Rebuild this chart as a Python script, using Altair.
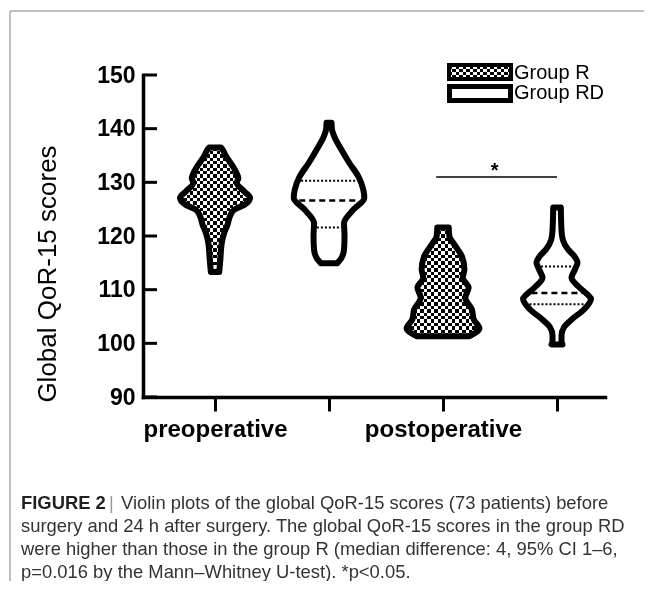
import altair as alt
import numpy as np
import pandas as pd

# ---------------- data ----------------
time_points = ["preoperative", "postoperative"]
groups = ["Group R", "Group RD"]
violin_ids = ["pre_R", "pre_RD", "post_R", "post_RD"]
violin_pos = [1, 2, 3, 4]
violin_group = ["Group R", "Group RD", "Group R", "Group RD"]

# outline of each violin: score levels and half-width readings (px at the axis spacing)
pre_R_scores = [136.5, 136.1, 134.8, 133.3, 132.0, 130.8, 129.9, 128.3, 127.1, 125.8, 124.9, 123.7, 122.1, 120.6, 118.7, 115.6, 113.3]
pre_R_width = [5.8, 7.5, 11.2, 16.7, 20.8, 23.3, 21.7, 29.2, 35.0, 29.2, 19.2, 15.0, 12.5, 9.2, 6.7, 5.3, 4.2]

pre_RD_scores = [141.1, 139.8, 138.5, 136.1, 133.6, 131.1, 128.6, 127.1, 124.9, 122.4, 120.0, 117.5, 115.8, 114.9]
pre_RD_width = [2.5, 3.0, 5.3, 12.3, 20.3, 29.3, 34.3, 35.3, 24.3, 15.0, 15.5, 15.0, 12.0, 8.0]

post_R_scores = [121.6, 119.9, 118.4, 116.2, 113.8, 112.2, 110.4, 108.5, 106.3, 104.5, 102.8, 101.3]
post_R_width = [5.7, 6.4, 11.4, 18.9, 21.4, 19.8, 25.6, 22.3, 28.9, 30.6, 36.4, 26.0]

post_RD_scores = [125.3, 121.0, 119.3, 117.5, 116.3, 115.0, 113.8, 112.2, 110.5, 109.0, 108.3, 106.3, 104.5, 103.0, 101.5, 100.3, 99.8]
post_RD_width = [3.8, 4.5, 5.8, 11.0, 17.0, 20.5, 18.0, 14.5, 22.0, 31.0, 34.0, 27.0, 15.0, 7.0, 4.5, 4.5, 5.5]

# quartile / median lines of the RD violins
pre_RD_quartiles = [121.6, 126.6, 130.3]
post_RD_quartiles = [107.3, 109.4, 114.3]
quartile_kind = ["q", "median", "q"]

y_ticks = [90, 100, 110, 120, 130, 140, 150]

sig_span = [2.94, 4.0]
sig_level = [131.0]
sig_label = ["*"]

legend_labels = ["Group R", "Group RD"]

caption_head = "FIGURE 2"
caption_lines = [
    "Violin plots of the global QoR-15 scores (73 patients) before",
    "surgery and 24 h after surgery. The global QoR-15 scores in the group RD",
    "were higher than those in the group R (median difference: 4, 95% CI 1\u20136,",
    "p=0.016 by the Mann\u2013Whitney U-test). *p<0.05.",
]
y_title = "Global QoR-15 scores"

# ---------------- layout ----------------
W, H = 462, 322
PX_PER_UNIT = 114.0
X_DOMAIN = [0.368, 4.421]
Y_DOMAIN = [90, 150]
PX_PER_SCORE = H / (Y_DOMAIN[1] - Y_DOMAIN[0])
FONT = "Liberation Sans"
STROKE = 6

xscale = alt.Scale(domain=X_DOMAIN, nice=False, zero=False)
yscale = alt.Scale(domain=Y_DOMAIN, nice=False, zero=False)

XAX = alt.Axis(values=[1, 2, 3, 4],
               labelExpr="datum.value == 1 ? 'preoperative' : datum.value == 3 ? 'postoperative' : ''",
               domainColor="black", domainWidth=3.5, domainCap="square",
               tickColor="black", tickWidth=3, tickSize=14,
               labelFont=FONT, labelFontSize=24, labelFontWeight="bold", labelColor="black",
               labelPadding=6, labelOverlap=False, labelBound=False, labelFlush=False,
               grid=False, title=None)
YAX = alt.Axis(values=y_ticks, domainColor="black", domainWidth=3.5, domainCap="square",
               ticks=False, tickSize=0, labelFont=FONT, labelFontSize=23,
               labelFontWeight="bold", labelColor="black", labelPadding=8,
               grid=False, title=None)

shapes = {
    "pre_R": (pre_R_scores, pre_R_width),
    "pre_RD": (pre_RD_scores, pre_RD_width),
    "post_R": (post_R_scores, post_R_width),
    "post_RD": (post_RD_scores, post_RD_width),
}

rows = []
for vid, pos, grp in zip(violin_ids, violin_pos, violin_group):
    sc, wd = shapes[vid]
    for s, w in sorted(zip(sc, wd)):
        rows.append(dict(violin=vid, pos=pos, group=grp, score=s,
                         lo=pos - w / PX_PER_UNIT, hi=pos + w / PX_PER_UNIT))
vdf = pd.DataFrame(rows)


def stripes(n, vertical):
    stops = []
    for i in range(n):
        c = "#000000" if i % 2 == 0 else "#ffffff"
        stops.append(alt.GradientStop(offset=i / n, color=c))
        stops.append(alt.GradientStop(offset=(i + 1) / n, color=c))
    if vertical:
        return alt.LinearGradient(gradient="linear", stops=stops, x1=0, x2=1, y1=0, y2=0)
    return alt.LinearGradient(gradient="linear", stops=stops, x1=0, x2=0, y1=0, y2=1)


def area(d, **mk):
    return alt.Chart(d).mark_area(orient="horizontal", interpolate="monotone", **mk).encode(
        y=alt.Y("score:Q", scale=yscale, axis=YAX),
        x=alt.X("lo:Q", scale=xscale, axis=XAX),
        x2="hi:Q",
        detail="violin:N",
    )


layers = []
# checkered fill for group R violins
for vid in ["pre_R", "post_R"]:
    d = vdf[vdf.violin == vid]
    sc, wd = shapes[vid]
    nh = int(round((max(sc) - min(sc)) * PX_PER_SCORE / 3.4))
    nv = int(round(2 * max(wd) / 3.4))
    layers.append(area(d, color=stripes(nh, False)))
    layers.append(area(d, color=stripes(nv, True), blend="difference"))

# quartile lines inside RD violins
qrows = []
for vid, pos, qs in [("pre_RD", 2, pre_RD_quartiles), ("post_RD", 4, post_RD_quartiles)]:
    sc, wd = shapes[vid]
    order = np.argsort(sc)
    for q, kind in zip(qs, quartile_kind):
        hw = float(np.interp(q, np.array(sc)[order], np.array(wd)[order])) - STROKE / 2
        qrows.append(dict(score=q, kind=kind, lo=pos - hw / PX_PER_UNIT, hi=pos + hw / PX_PER_UNIT))
qdf = pd.DataFrame(qrows)
for kind, dash, sw in [("q", [2, 2], 2), ("median", [6, 4], 2.5)]:
    layers.append(alt.Chart(qdf[qdf.kind == kind]).mark_rule(color="black", strokeWidth=sw, strokeDash=dash).encode(
        y=alt.Y("score:Q", scale=yscale, axis=YAX),
        x=alt.X("lo:Q", scale=xscale, axis=XAX),
        x2="hi:Q"))

# outlines
layers.append(area(vdf, fill="white", fillOpacity=0, stroke="black",
                   strokeWidth=STROKE, strokeJoin="round"))

# inward y ticks
layers.append(alt.Chart(pd.DataFrame({"score": y_ticks})).mark_rule(color="black", strokeWidth=3).encode(
    y=alt.Y("score:Q", scale=yscale, axis=YAX), x=alt.value(0), x2=alt.value(14)))

# significance bracket
sdf = pd.DataFrame({"lo": [sig_span[0]], "hi": [sig_span[1]], "score": sig_level,
                    "mid": [(sig_span[0] + sig_span[1]) / 2], "t": sig_label})
layers.append(alt.Chart(sdf).mark_rule(color="black", strokeWidth=1.5).encode(
    x=alt.X("lo:Q", scale=xscale, axis=XAX), x2="hi:Q", y=alt.Y("score:Q", scale=yscale, axis=YAX)))
layers.append(alt.Chart(sdf).mark_text(font=FONT, fontSize=20, fontWeight="bold", color="black",
                                       baseline="middle", dy=-6, dx=-2).encode(
    x=alt.X("mid:Q", scale=xscale, axis=XAX), y=alt.Y("score:Q", scale=yscale, axis=YAX), text="t:N"))

# legend (drawn)
one = pd.DataFrame({"k": [0]})
layers.append(alt.Chart(one).mark_rect(color=stripes(4, False)).encode(
    x=alt.value(306), x2=alt.value(368), y=alt.value(-10), y2=alt.value(4)))
layers.append(alt.Chart(one).mark_rect(color=stripes(18, True), blend="difference").encode(
    x=alt.value(306), x2=alt.value(368), y=alt.value(-10), y2=alt.value(4)))
layers.append(alt.Chart(one).mark_rect(fill="white", fillOpacity=0, stroke="black", strokeWidth=4).encode(
    x=alt.value(306), x2=alt.value(368), y=alt.value(-10), y2=alt.value(4)))
layers.append(alt.Chart(one).mark_rect(fill="white", stroke="black", strokeWidth=5).encode(
    x=alt.value(306.5), x2=alt.value(367.5), y=alt.value(11.5), y2=alt.value(25.5)))
ldf = pd.DataFrame({"t": legend_labels, "yy": [-2, 18]})
layers.append(alt.Chart(ldf).mark_text(font=FONT, fontSize=20, color="black", align="left",
                                       baseline="middle").encode(
    x=alt.value(371), y=alt.Y("yy:Q", scale=None, axis=None), text="t:N"))

# y title
layers.append(alt.Chart(pd.DataFrame({"t": [y_title]})).mark_text(
    font=FONT, fontSize=26, color="black", angle=270, align="center", baseline="middle").encode(
    x=alt.value(-95), y=alt.value(199), text="t:N"))

# frame lines
layers.append(alt.Chart(one).mark_rule(color="#aaaaaa", strokeWidth=1.5).encode(
    x=alt.value(-133), x2=alt.value(520), y=alt.value(-64)))
layers.append(alt.Chart(one).mark_rule(color="#aaaaaa", strokeWidth=1.5).encode(
    x=alt.value(-133), y=alt.value(-64), y2=alt.value(530)))

# caption
cap_y = [434, 457, 480, 503]
layers.append(alt.Chart(pd.DataFrame({"t": [caption_head]})).mark_text(
    font=FONT, fontSize=18.4, fontWeight="bold", color="#231f20", align="left", baseline="alphabetic").encode(
    x=alt.value(-122), y=alt.value(cap_y[0]), text="t:N"))
layers.append(alt.Chart(pd.DataFrame({"t": ["|"]})).mark_text(
    font=FONT, fontSize=18.4, color="#999999", align="left", baseline="alphabetic").encode(
    x=alt.value(-34), y=alt.value(cap_y[0]), text="t:N"))
cdf = pd.DataFrame({"t": caption_lines, "xx": [-22, -122, -122, -122], "yy": cap_y})
layers.append(alt.Chart(cdf).mark_text(
    font=FONT, fontSize=18.4, color="#333333", align="left", baseline="alphabetic").encode(
    x=alt.X("xx:Q", scale=None, axis=None), y=alt.Y("yy:Q", scale=None, axis=None), text="t:N"))

chart = alt.layer(*layers).properties(
    width=W, height=H, autosize="none", background="white",
    padding={"left": 135, "top": 67, "right": 39, "bottom": 184},
).configure_view(strokeWidth=0)

chart.save("out.html", embed_options={"renderer": "svg", "actions": False})
